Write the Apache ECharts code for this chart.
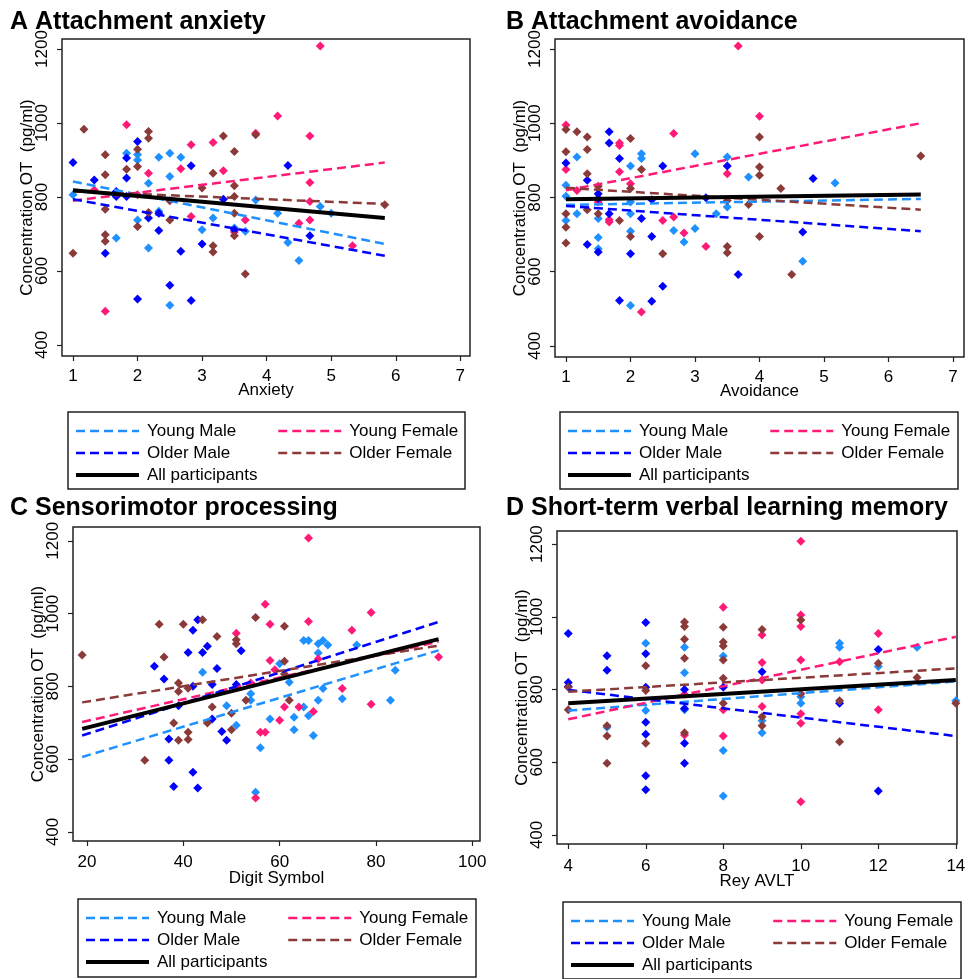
<!DOCTYPE html>
<html>
<head>
<meta charset="utf-8">
<title>Oxytocin concentration</title>
<script src="https://cdn.jsdelivr.net/npm/echarts@6/dist/echarts.min.js"></script>
<style>
  html, body { margin: 0; padding: 0; background: #fff; }
  #main { width: 968px; height: 979px; }
</style>
</head>
<body>
<div id="main"></div>
<script>
// groups and their colours
var groups = ['Young Male', 'Young Female', 'Older Male', 'Older Female'];
var groupColors = ['#1e90ff', '#ff1a78', '#0000ff', '#8b3a3a'];
var yTicks = [400, 600, 800, 1000, 1200];

// A  Attachment anxiety
var aTicks = [1, 2, 3, 4, 5, 6, 7];
var aYM = [[1.0,806],[1.67,689],[1.83,918],[2.0,738],[2.0,915],[2.0,900],[2.17,662],[2.17,837],[2.33,907],[2.33,761],[2.5,918],[2.5,855],[2.5,507],[2.67,907],[3.0,711],[3.17,743],[3.5,716],[3.67,707],[3.83,792],[4.17,756],[4.33,677],[4.5,628],[4.83,774],[5.0,756]];
var aYF = [[1.33,819],[1.5,491],[1.83,995],[2.0,806],[2.17,864],[2.67,876],[2.83,941],[2.83,747],[3.17,947],[3.33,871],[3.5,705],[3.67,738],[3.83,972],[4.17,1019],[4.5,729],[4.67,965],[4.67,839],[4.67,788],[4.67,738],[4.83,1208],[5.33,668]];
var aOM = [[1.0,893],[1.33,846],[1.5,648],[1.67,815],[1.67,801],[1.83,905],[1.83,851],[1.83,801],[2.0,950],[2.0,524],[2.17,743],[2.33,756],[2.33,709],[2.5,561],[2.67,653],[2.83,884],[2.83,520],[3.0,673],[3.33,794],[3.5,711],[4.33,885],[4.67,695]];
var aOF = [[1.0,648],[1.17,983],[1.5,914],[1.5,860],[1.5,767],[1.5,698],[1.5,680],[1.83,875],[2.0,929],[2.0,882],[2.0,720],[2.17,977],[2.17,959],[2.17,758],[2.5,790],[2.5,738],[3.0,824],[3.17,864],[3.17,668],[3.17,651],[3.33,965],[3.5,923],[3.5,830],[3.5,801],[3.5,756],[3.5,695],[3.67,592],[3.83,968],[5.83,779]];
var aFitX = [1, 5.83];
var aFitYM = [842, 673];
var aFitYF = [790, 893];
var aFitOM = [794, 641];
var aFitOF = [815, 781];
var aFitAll = [818, 743];

// B  Attachment avoidance
var bTicks = [1, 2, 3, 4, 5, 6, 7];
var bYM = [[1.0,833],[1.0,803],[1.0,738],[1.17,909],[1.17,756],[1.5,743],[1.5,692],[1.5,662],[2.0,885],[2.0,756],[2.0,709],[2.0,509],[2.0,788],[2.17,918],[2.17,905],[2.67,711],[2.83,680],[3.0,918],[3.0,716],[3.33,756],[3.5,909],[3.5,774],[3.83,855],[4.67,628],[5.17,839]];
var bYF = [[1.0,995],[1.0,875],[1.17,819],[1.5,788],[1.67,734],[1.67,740],[1.83,947],[1.83,940],[1.83,869],[2.0,837],[2.17,491],[2.5,738],[2.67,972],[2.67,747],[2.83,704],[3.17,668],[3.5,864],[3.67,1208],[4.0,1019]];
var bOM = [[1.0,893],[1.33,846],[1.33,673],[1.5,810],[1.5,797],[1.5,653],[1.67,977],[1.67,947],[1.67,756],[1.83,905],[1.83,522],[2.0,648],[2.17,743],[2.33,794],[2.33,695],[2.33,520],[2.5,885],[2.5,561],[3.17,799],[3.5,885],[3.67,592],[4.67,707],[4.83,851]];
var bOF = [[1.0,983],[1.0,923],[1.0,756],[1.0,720],[1.0,677],[1.17,977],[1.33,963],[1.33,929],[1.33,864],[1.33,767],[1.5,830],[1.5,756],[1.83,738],[2.0,959],[2.0,824],[2.0,695],[2.17,875],[2.5,648],[3.5,792],[3.5,668],[3.5,651],[3.83,781],[4.0,963],[4.0,882],[4.0,860],[4.0,695],[4.33,824],[4.5,592],[6.5,912]];
var bFitX = [1, 6.5];
var bFitYM = [780, 796];
var bFitYF = [819, 1000];
var bFitOM = [777, 709];
var bFitOF = [826, 767];
var bFitAll = [795, 808];

// C  Sensorimotor processing
var cTicks = [20, 40, 60, 80, 100];
var cYM = [[44,839],[49,747],[51,693],[54,780],[54,762],[55,509],[56,631],[58,710],[60,862],[62,811],[63,715],[63,681],[65,743],[65,926],[66,926],[66,719],[67,665],[68,892],[68,762],[68,917],[69,926],[69,794],[70,914],[76,914],[73,766],[83,762],[84,844]];
var cYF = [[51,946],[54,809],[56,674],[57,674],[57,1026],[58,971],[58,871],[55,493],[59,846],[60,707],[61,743],[64,743],[66,978],[66,1208],[67,731],[68,875],[73,794],[75,954],[79,1003],[79,751],[93,881]];
var cOM = [[34,855],[36,820],[37,655],[37,597],[38,525],[39,747],[41,893],[42,564],[42,800],[42,954],[43,983],[43,521],[44,893],[45,910],[46,805],[46,710],[47,849],[48,676],[49,652],[51,805],[52,898]];
var cOF = [[19,886],[32,597],[35,971],[36,881],[38,699],[39,809],[39,786],[39,652],[40,971],[41,795],[41,674],[41,654],[44,983],[45,699],[46,743],[47,937],[50,726],[50,681],[51,928],[51,917],[53,762],[55,989],[61,965],[61,869],[61,834],[62,762]];
var cFitX = [19, 93];
var cFitYM = [606, 899];
var cFitYF = [702, 923];
var cFitOM = [665, 977];
var cFitOF = [756, 912];
var cFitAll = [683, 930];

// D  Short-term verbal learning memory
var dTicks = [4, 6, 8, 10, 12, 14];
var dYM = [[5,696],[6,927],[6,742],[7,916],[7,846],[7,744],[8,892],[8,632],[8,507],[9,714],[9,681],[10,762],[10,780],[11,927],[11,916],[12,863],[13,916],[14,769]];
var dYF = [[7,675],[7,787],[8,1026],[8,744],[8,672],[9,950],[9,874],[9,826],[9,753],[10,1208],[10,1005],[10,973],[10,881],[10,733],[10,707],[10,491],[11,876],[12,954],[12,744]];
var dOM = [[4,954],[4,819],[4,808],[5,893],[5,853],[6,984],[6,898],[6,806],[6,710],[6,677],[6,563],[6,524],[7,800],[7,748],[7,652],[7,597],[8,806],[9,849],[11,762],[12,910],[12,521]];
var dOF = [[4,806],[4,744],[5,700],[5,672],[5,597],[6,865],[6,797],[6,652],[7,986],[7,973],[7,938],[7,886],[7,681],[8,971],[8,931],[8,920],[8,881],[8,831],[8,762],[9,965],[9,725],[9,700],[10,991],[10,788],[11,769],[11,656],[12,872],[13,833],[14,762]];
var dFitX = [4, 14];
var dFitYM = [742, 822];
var dFitYF = [718, 945];
var dFitOM = [799, 672];
var dFitOF = [794, 858];
var dFitAll = [762, 826];

var FONT = 'Liberation Sans, Arial, sans-serif';

var panels = [
  { title: 'A Attachment anxiety', xName: 'Anxiety', ticks: aTicks,
    pts: [aYM, aYF, aOM, aOF], fits: [aFitYM, aFitYF, aFitOM, aFitOF], all: aFitAll, fitX: aFitX,
    grid: { left: 62, top: 39, width: 408, height: 317 }, xMin: 0.83, xMax: 7.15, yMin: 370, yMax: 1227,
    titlePos: [10, 10], labelGap: 12, nameGap: 26, box: [68, 412, 397, 77] },
  { title: 'B Attachment avoidance', xName: 'Avoidance', ticks: bTicks,
    pts: [bYM, bYF, bOM, bOF], fits: [bFitYM, bFitYF, bFitOM, bFitOF], all: bFitAll, fitX: bFitX,
    grid: { left: 555, top: 39, width: 409, height: 318 }, xMin: 0.83, xMax: 7.17, yMin: 370, yMax: 1227,
    titlePos: [506, 10], labelGap: 12, nameGap: 26, box: [560, 412, 398, 77] },
  { title: 'C Sensorimotor processing', xName: 'Digit Symbol', ticks: cTicks,
    pts: [cYM, cYF, cOM, cOF], fits: [cFitYM, cFitYF, cFitOM, cFitOF], all: cFitAll, fitX: cFitX,
    grid: { left: 73, top: 527, width: 407, height: 314 }, xMin: 17.1, xMax: 101.6, yMin: 375, yMax: 1238,
    titlePos: [10, 496], labelGap: 13, nameGap: 29, box: [78, 899, 398, 78] },
  { title: 'D Short-term verbal learning memory', xName: 'Rey AVLT', ticks: dTicks,
    pts: [dYM, dYF, dOM, dOF], fits: [dFitYM, dFitYF, dFitOM, dFitOF], all: dFitAll, fitX: dFitX,
    grid: { left: 557, top: 531, width: 400, height: 313 }, xMin: 3.71, xMax: 14.03, yMin: 375, yMax: 1236,
    titlePos: [506, 496], labelGap: 14, nameGap: 29, box: [563, 902, 398, 77] }
];

var option = {
  animation: false,
  backgroundColor: '#fff',
  title: [], grid: [], xAxis: [], yAxis: [], series: [], legend: [], graphic: []
};

var legendText = { fontSize: 17, fontFamily: FONT, color: '#000', lineHeight: 18, padding: [0, 0, 0, 3] };
var plainNum = function (v) { return String(v); };

panels.forEach(function (p, i) {
  option.title.push({
    text: p.title, left: p.titlePos[0], top: p.titlePos[1], padding: 0,
    textStyle: { fontSize: 25, fontWeight: 'bold', fontFamily: FONT, color: '#000' }
  });
  option.grid.push({
    left: p.grid.left, top: p.grid.top, width: p.grid.width, height: p.grid.height,
    show: true, borderColor: '#222', borderWidth: 1.5, backgroundColor: 'transparent',
    outerBoundsMode: 'none'
  });
  option.xAxis.push({
    gridIndex: i, type: 'value', min: p.xMin, max: p.xMax,
    name: p.xName, nameLocation: 'middle', nameGap: p.nameGap, nameMoveOverlap: false,
    nameTextStyle: { fontSize: 17, fontFamily: FONT, color: '#000' },
    axisLine: { show: false },
    axisTick: { show: true, length: 5, customValues: p.ticks, lineStyle: { color: '#222', width: 1.2 } },
    axisLabel: { customValues: p.ticks, formatter: plainNum, fontSize: 17, fontFamily: FONT, color: '#000', margin: p.labelGap },
    splitLine: { show: false }
  });
  option.yAxis.push({
    gridIndex: i, type: 'value', min: p.yMin, max: p.yMax,
    name: 'Concentration OT  (pg/ml)', nameLocation: 'middle', nameGap: 26, nameRotate: 90, nameMoveOverlap: false,
    nameTextStyle: { fontSize: 17, fontFamily: FONT, color: '#000' },
    axisLine: { show: false },
    axisTick: { show: true, length: 5, customValues: yTicks, lineStyle: { color: '#222', width: 1.2 } },
    axisLabel: { customValues: yTicks, formatter: plainNum, rotate: 90, fontSize: 17, fontFamily: FONT, color: '#000', margin: 11 },
    splitLine: { show: false }
  });

  // observations
  groups.forEach(function (g, k) {
    option.series.push({
      name: g + ' obs ' + i, type: 'scatter', xAxisIndex: i, yAxisIndex: i,
      data: p.pts[k], symbol: 'diamond', symbolSize: 9,
      itemStyle: { color: groupColors[k], opacity: 1 }
    });
  });
  // group fit lines
  groups.forEach(function (g, k) {
    option.series.push({
      name: g, type: 'line', xAxisIndex: i, yAxisIndex: i, symbol: 'none',
      data: [[p.fitX[0], p.fits[k][0]], [p.fitX[1], p.fits[k][1]]],
      lineStyle: { color: groupColors[k], width: 2.5, type: [9, 5] },
      itemStyle: { color: groupColors[k] }
    });
  });
  option.series.push({
    name: 'All participants', type: 'line', xAxisIndex: i, yAxisIndex: i, symbol: 'none',
    data: [[p.fitX[0], p.all[0]], [p.fitX[1], p.all[1]]],
    lineStyle: { color: '#000', width: 4 },
    itemStyle: { color: '#000' }
  });

  // legend: two columns inside a framed box
  var bx = p.box;
  var legendBase = {
    orient: 'vertical', padding: 0, itemWidth: 63, itemHeight: 3, itemGap: 4,
    itemStyle: { opacity: 0 }, lineStyle: { width: 'inherit' },
    textStyle: legendText, selectedMode: false
  };
  option.legend.push(Object.assign({}, legendBase, {
    left: bx[0] + 6, top: bx[1] + 10, data: ['Young Male', 'Older Male', 'All participants']
  }));
  option.legend.push(Object.assign({}, legendBase, {
    left: bx[0] + 209, top: bx[1] + 10, data: ['Young Female', 'Older Female']
  }));
  option.graphic.push({
    type: 'rect', silent: true,
    shape: { x: bx[0], y: bx[1], width: bx[2], height: bx[3] },
    style: { fill: 'none', stroke: '#222', lineWidth: 1.5 }
  });
});

var myChart = echarts.init(document.getElementById('main'));
myChart.setOption(option);
</script>
</body>
</html>
